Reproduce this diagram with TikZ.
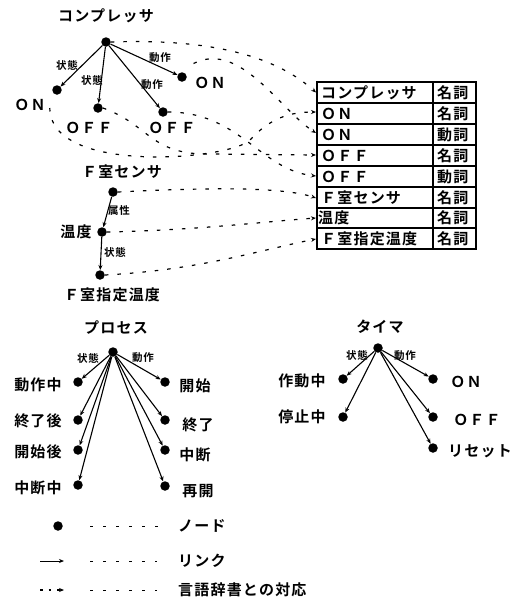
\documentclass[tikz,border=0pt]{standalone}
\usepackage{fontspec}
\setmainfont{Noto Sans CJK JP Bold}[LetterSpace=8]
\usetikzlibrary{arrows.meta}
\tikzset{
  dot/.style={circle,fill=black,inner sep=0pt,minimum size=9.5pt},
  lbl/.style={font=\fontsize{15}{16}\selectfont,inner sep=0pt},
  elbl/.style={font=\fontsize{10.5}{11}\selectfont,inner sep=0pt},
  link/.style={line width=1.1pt,-{Stealth[length=5pt,width=4pt]}},
  corr/.style={line width=1.2pt,dash pattern=on 3.5pt off 9pt,-{Stealth[length=5pt,width=4pt]}},
  cell/.style={font=\fontsize{15}{16}\selectfont,inner sep=0pt,anchor=west},
  tline/.style={line width=1.1pt}
}
\begin{document}
\begin{tikzpicture}[x=1pt,y=-1pt]
\useasboundingbox (0,0) rectangle (519,603);
% ---------- compressor
\node[lbl] (tcomp) at (106,16) {コンプレッサ};
\node[dot] (cr) at (106,42) {};
\node[dot] (con1) at (57,90) {};
\node[dot] (coff1) at (98,108) {};
\node[dot] (coff2) at (163,112) {};
\node[dot] (con2) at (182,77) {};
\node[lbl] (lon1) at (30,105) {ＯＮ};
\node[lbl] (loff1) at (89,128) {ＯＦＦ};
\node[lbl] (loff2) at (172,128) {ＯＦＦ};
\node[lbl] (lon2) at (210,83) {ＯＮ};
\draw[link] (cr) -- (con1);
\draw[link] (cr) -- (coff1);
\draw[link] (cr) -- (coff2);
\draw[link] (cr) -- (con2);
\node[elbl] (ec1) at (67,65) {状態};
\node[elbl] (ec2) at (92,80) {状態};
\node[elbl] (ec3) at (152,85) {動作};
\node[elbl] (ec4) at (160,58) {動作};
% ---------- F room sensor
\node[lbl] (tfs) at (122,172) {Ｆ室センサ};
\node[dot] (fs) at (113,192) {};
\node[dot] (ft) at (102,232) {};
\node[dot] (fsd) at (100,275) {};
\node[lbl] (lft) at (76,232) {温度};
\node[lbl] (tfsd) at (112,295) {Ｆ室指定温度};
\draw[link] (fs) -- (ft);
\draw[link] (ft) -- (fsd);
\node[elbl] (ef1) at (119,211) {属性};
\node[elbl] (ef2) at (115,252) {状態};
% ---------- table
\draw[tline] (317,82) rectangle (476,249);
\draw[tline] (433,82) -- (433,249);
\foreach \y in {103,124,145,166,187,208,228} \draw[tline] (317,\y) -- (476,\y);
\node[cell] (r1) at (321,92.5) {コンプレッサ};
\node[cell] (r2) at (321,113.5) {ＯＮ};
\node[cell] (r3) at (321,134.5) {ＯＮ};
\node[cell] (r4) at (321,155.5) {ＯＦＦ};
\node[cell] (r5) at (321,176.5) {ＯＦＦ};
\node[cell] (r6) at (321,197.5) {Ｆ室センサ};
\node[cell] (r7) at (318,218) {温度};
\node[cell] (r8) at (321,238.5) {Ｆ室指定温度};
\node[cell] (p1) at (437,92.5) {名詞};
\node[cell] (p2) at (437,113.5) {名詞};
\node[cell] (p3) at (437,134.5) {動詞};
\node[cell] (p4) at (437,155.5) {名詞};
\node[cell] (p5) at (437,176.5) {動詞};
\node[cell] (p6) at (437,197.5) {名詞};
\node[cell] (p7) at (437,218) {名詞};
\node[cell] (p8) at (437,238.5) {名詞};
\coordinate (e1) at (316,92.5);
\coordinate (e2) at (316,112);
\coordinate (e3) at (316,133);
\coordinate (e4) at (316,155);
\coordinate (e5) at (316,176);
\coordinate (e6) at (316,198);
\coordinate (e7) at (316,218);
\coordinate (e8) at (316,239);
% ---------- correspondence (dashed)
\draw[corr] (cr.east) .. controls (220,38) and (280,60) .. (e1);
\draw[corr] (con2.north east) ++(8,-10) .. controls (240,40) and (280,110) .. (e3);
\draw[corr] (lon1.east) ++(4,3) .. controls (50,175) and (230,160) .. (250,140) .. controls (270,118) and (290,112) .. (e2);
\draw[corr] (coff1.east) .. controls (150,125) and (150,155) .. (210,154) -- (e4);
\draw[corr] (coff2.east) .. controls (240,112) and (260,170) .. (e5);
\draw[corr] (fs.east) .. controls (200,188) and (280,186) .. (e6);
\draw[corr] (ft.east) .. controls (200,230) and (260,222) .. (e7);
\draw[corr] (fsd.east) .. controls (200,270) and (260,250) .. (e8);
% ---------- process
\node[lbl] (tpr) at (116,328) {プロセス};
\node[dot] (pr) at (113,352) {};
\node[dot] (pl1) at (78,382) {};
\node[dot] (pl2) at (78,420) {};
\node[dot] (pl3) at (78,450) {};
\node[dot] (pl4) at (78,485) {};
\node[dot] (pq1) at (165,382) {};
\node[dot] (pq2) at (165,420) {};
\node[dot] (pq3) at (165,450) {};
\node[dot] (pq4) at (165,486) {};
\node[lbl] (lpl1) at (38,385) {動作中};
\node[lbl] (lpl2) at (38,421) {終了後};
\node[lbl] (lpl3) at (38,452) {開始後};
\node[lbl] (lpl4) at (38,488) {中断中};
\node[lbl] (lpq1) at (195,386) {開始};
\node[lbl] (lpq2) at (198,425) {終了};
\node[lbl] (lpq3) at (195,455) {中断};
\node[lbl] (lpq4) at (198,491) {再開};
\foreach \n in {pl1,pl2,pl3,pl4,pq1,pq2,pq3,pq4} \draw[link] (pr) -- (\n);
\node[elbl] (pst) at (88,358) {状態};
\node[elbl] (pac) at (143,358) {動作};
% ---------- timer
\node[lbl] (ttm) at (380,327) {タイマ};
\node[dot] (tmr) at (378,348) {};
\node[dot] (tl1) at (343,379) {};
\node[dot] (tl2) at (343,417) {};
\node[dot] (tq1) at (433,379) {};
\node[dot] (tq2) at (433,417) {};
\node[dot] (tq3) at (433,448) {};
\node[lbl] (ltl1) at (302,381) {作動中};
\node[lbl] (ltl2) at (302,417) {停止中};
\node[lbl] (ltq1) at (466,382) {ＯＮ};
\node[lbl] (ltq2) at (477,420) {ＯＦＦ};
\node[lbl] (ltq3) at (480,451) {リセット};
\foreach \n in {tl1,tl2,tq1,tq2,tq3} \draw[link] (tmr) -- (\n);
\node[elbl] (tst) at (357,355) {状態};
\node[elbl] (tac) at (405,356) {動作};
% ---------- legend
\node[dot] (lg1) at (58,526) {};
\coordinate (lga) at (90,526); \coordinate (lgb) at (167,526);
\draw[line width=1pt,dash pattern=on 2.5pt off 10.5pt] (lga) -- (lgb);
\node[lbl,anchor=west] (lgt1) at (178,526) {ノード};
\coordinate (la1) at (40,561); \coordinate (la2) at (64,561);
\draw[link,line width=0.9pt] (la1) -- (la2);
\coordinate (lgc) at (90,561); \coordinate (lgd) at (157,561);
\draw[line width=1pt,dash pattern=on 2.5pt off 10.5pt] (lgc) -- (lgd);
\node[lbl,anchor=west] (lgt2) at (178,561) {リンク};
\coordinate (lb1) at (40,590); \coordinate (lb2) at (64,590);
\draw[corr,dash pattern=on 2.5pt off 6pt] (lb1) -- (lb2);
\coordinate (lge) at (90,590); \coordinate (lgf) at (157,590);
\draw[line width=1pt,dash pattern=on 2.5pt off 10.5pt] (lge) -- (lgf);
\node[lbl,anchor=west] (lgt3) at (178,590) {言語辞書との対応};
\end{tikzpicture}
\end{document}
